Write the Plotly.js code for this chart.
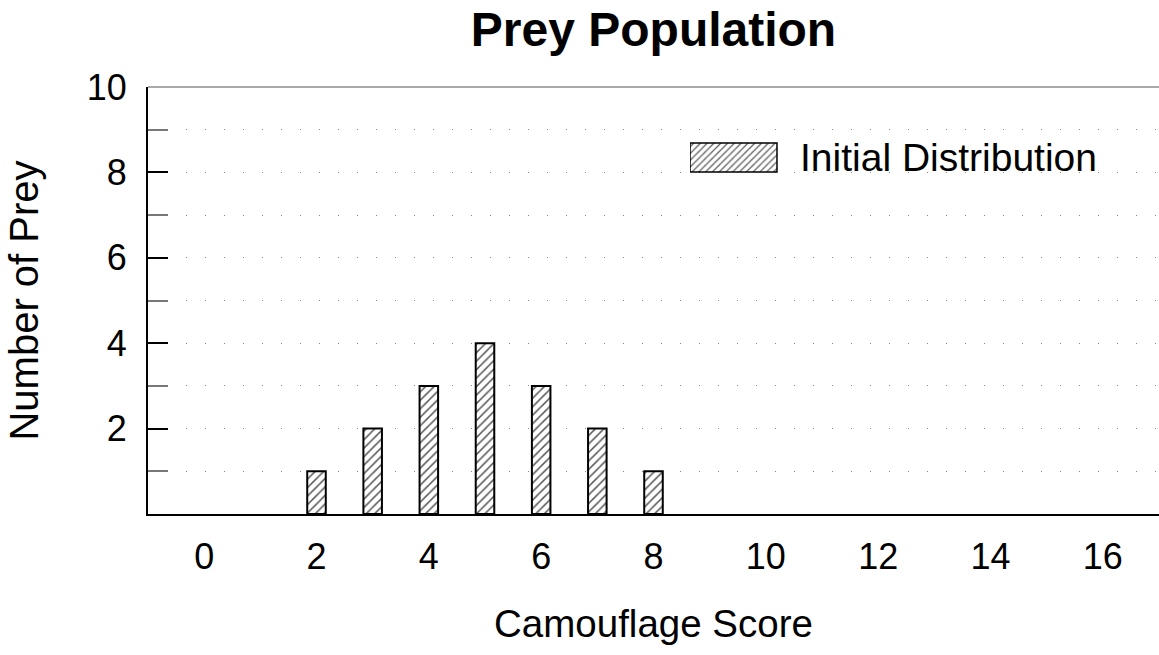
<!DOCTYPE html>
<html>
<head>
<meta charset="utf-8">
<script src="https://cdn.plot.ly/plotly-3.0.1.min.js"></script>
<style>html,body{margin:0;padding:0;background:#fff;}</style>
</head>
<body>
<div id="chart" style="width:1159px;height:655px;"></div>
<script>
const scores = [2, 3, 4, 5, 6, 7, 8];
const counts = [1, 2, 3, 4, 3, 2, 1];
const xTicks = [0, 2, 4, 6, 8, 10, 12, 14, 16];
const yTicks = [2, 4, 6, 8, 10];
const seriesName = 'Initial Distribution';

const FONT = 'Liberation Sans, Arial, sans-serif';

const trace = {
  type: 'bar',
  x: scores,
  y: counts,
  name: seriesName,
  width: 0.33,
  marker: {
    color: 'white',
    line: {color: 'black', width: 2},
    pattern: {shape: '/', fgcolor: '#555', bgcolor: 'white', size: 6, solidity: 0.25}
  },
  showlegend: true
};

const layout = {
  width: 1159, height: 655,
  margin: {l: 148, r: 0, t: 87, b: 141, pad: 0},
  paper_bgcolor: 'white', plot_bgcolor: 'white',
  font: {family: FONT, color: 'black'},
  title: {
    text: '<b>Prey Population</b>',
    font: {family: FONT, size: 48, color: 'black'},
    x: 0.5, xref: 'paper', xanchor: 'center',
    y: 1 - 29/655, yref: 'container', yanchor: 'middle'
  },
  xaxis: {
    range: [-1, 17],
    tickvals: xTicks,
    ticktext: xTicks.map(String),
    ticks: '',
    showgrid: false, zeroline: false,
    showline: true, linecolor: 'black', linewidth: 2,
    tickfont: {family: FONT, size: 36, color: 'black'},
    ticklabelstandoff: 10,
    title: {text: 'Camouflage Score', font: {family: FONT, size: 38.5, color: 'black'}, standoff: 34}
  },
  yaxis: {
    range: [0, 10],
    tickvals: yTicks,
    ticks: 'inside', ticklen: 20, tickwidth: 2, tickcolor: 'black',
    showline: true, linecolor: 'black', linewidth: 2,
    zeroline: false,
    showgrid: true, gridcolor: '#888', gridwidth: 1, griddash: '1px,18px',
    minor: {dtick: 1, tick0: 0, ticks: 'inside', ticklen: 20, tickwidth: 2, tickcolor: '#777',
            showgrid: true, gridcolor: '#888', gridwidth: 1, griddash: '1px,18px'},
    tickfont: {family: FONT, size: 36, color: 'black'},
    ticklabelstandoff: 12,
    title: {text: 'Number of Prey', font: {family: FONT, size: 40, color: 'black'}, standoff: 36}
  },
  shapes: [{
    type: 'line', xref: 'paper', yref: 'paper', x0: 0, x1: 1, y0: 1, y1: 1,
    line: {color: '#555', width: 1}, layer: 'above'
  }],
  showlegend: true,
  legend: {
    x: (800 - 148 - 110) / 1011, y: (514 - 124) / 427, xanchor: 'left', yanchor: 'top',
    bgcolor: 'rgba(0,0,0,0)', borderwidth: 0,
    font: {family: FONT, size: 39, color: 'black'},
    itemwidth: 100
  },
  bargap: 0
};

function fixLegend() {
  const txt = document.querySelector('.legend .legendtext');
  const paths = document.querySelectorAll('.legend .legendpoints path');
  if (!txt || !paths.length) return;
  const tb = txt.getBoundingClientRect();
  paths.forEach(function (sym) {
    sym.removeAttribute('transform');
    sym.setAttribute('d', 'M43.5,14.5H-43.5V-14.5H43.5Z');
    const sb = sym.getBoundingClientRect();
    const dx = (tb.left - 23) - sb.right;
    const dy = (tb.top + tb.height / 2) - (sb.top + sb.height / 2);
    sym.setAttribute('transform', 'translate(' + dx + ',' + dy + ')');
    sym.style.strokeWidth = '1.5px';
  });
}

Plotly.newPlot('chart', [trace], layout, {staticPlot: true, displayModeBar: false}).then(function () {
  fixLegend();
  setTimeout(fixLegend, 50);
});
</script>
</body>
</html>
